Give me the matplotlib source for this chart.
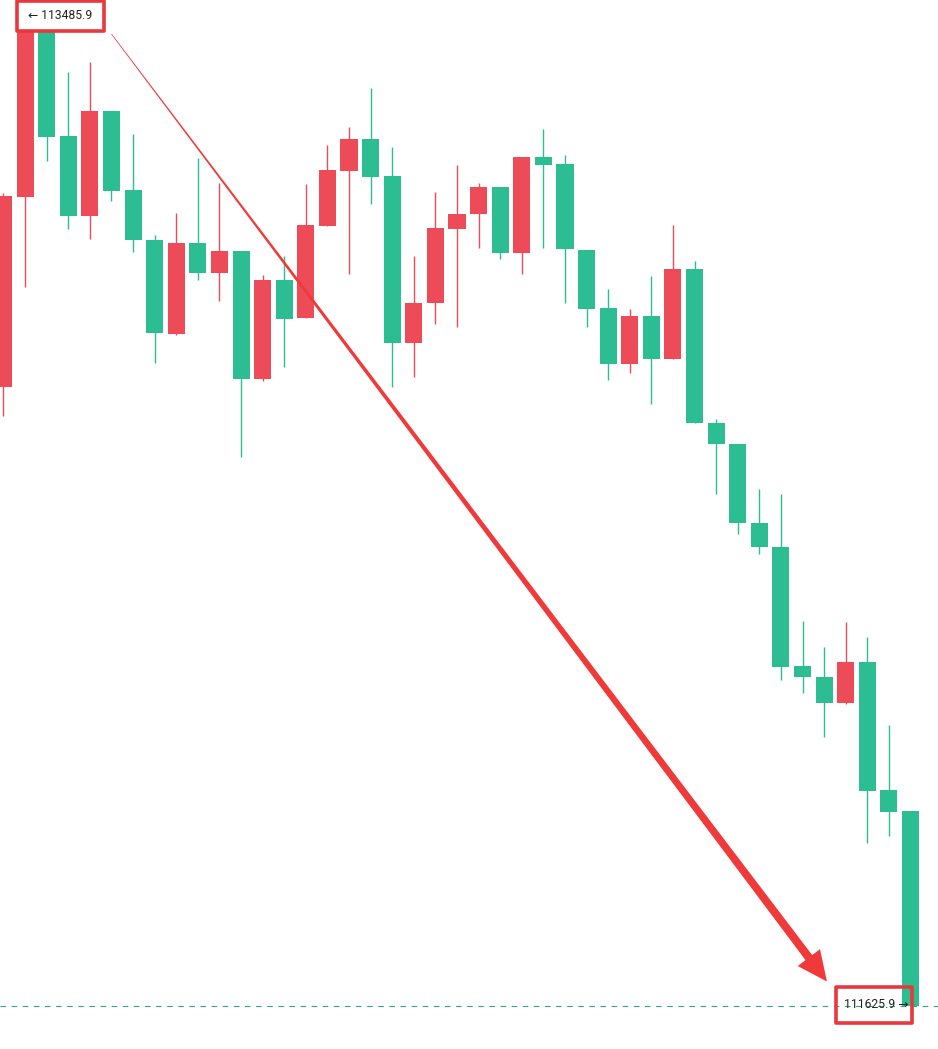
import numpy as np
import matplotlib
matplotlib.use("Agg")
import matplotlib.pyplot as plt
from matplotlib.patches import Polygon, FancyBboxPatch

# candle data, oldest first
opens = [112788.5, 113145.7, 113463.3, 113260.3, 113110.0, 113307.3, 113158.8, 113064.9,
         112888.2, 113059.2, 113002.8, 113044.2, 112803.6, 112989.7, 112918.2, 113091.2,
         113194.6, 113254.7, 113185.2, 112871.2, 112946.4, 113085.5, 113113.7, 113164.5,
         113040.4, 113220.9, 113207.7, 113046.0, 112937.0, 112831.8, 112922.0, 112841.2,
         113010.3, 112720.9, 112681.4, 112532.9, 112487.8, 112264.1, 112243.4, 112194.5,
         112271.6, 112031.0, 111991.5]
closes = [113147.6, 113463.3, 113258.5, 113110.0, 113307.3, 113157.0, 113064.9, 112890.0,
          113059.2, 113002.8, 113044.2, 112803.6, 112989.7, 112916.4, 113093.0, 113196.4,
          113254.7, 113183.3, 112871.2, 112946.4, 113087.4, 113113.7, 113164.5, 113040.4,
          113220.9, 113205.8, 113047.9, 112935.2, 112831.8, 112922.0, 112841.2, 113010.3,
          112720.9, 112681.4, 112532.9, 112487.8, 112262.2, 112243.4, 112194.5, 112271.6,
          112029.1, 111989.7, 111625.9]
highs = [113153.2, 113485.9, 113467.1, 113380.6, 113399.4, 113307.3, 113264.1, 113074.2,
         113115.6, 113219.0, 113172.0, 113044.2, 112999.1, 113034.8, 113170.1, 113243.4,
         113277.3, 113350.6, 113239.7, 113034.8, 113155.1, 113205.8, 113172.0, 113164.5,
         113220.9, 113273.5, 113224.6, 113046.0, 112972.7, 112935.2, 112997.2, 113093.0,
         113025.4, 112728.4, 112681.4, 112596.8, 112587.4, 112348.7, 112299.8, 112346.8,
         112318.6, 112153.2, 111991.5]
lows = [112734.0, 112976.5, 113213.3, 113085.5, 113066.7, 113138.2, 113042.3, 112833.6,
        112886.3, 112989.7, 112950.2, 112657.0, 112799.8, 112826.1, 112918.2, 113091.2,
        113000.9, 113132.5, 112788.5, 112807.3, 112907.0, 112901.3, 113049.8, 113029.1,
        113000.9, 113049.8, 112946.4, 112901.3, 112801.7, 112814.9, 112756.6, 112841.2,
        112720.9, 112587.4, 112512.2, 112474.6, 112237.8, 112213.3, 112130.6, 112192.7,
        111931.4, 111944.6, 111625.9]

high_label = "113485.9"
last_label = "111625.9"

UP = "#ee4b58"
DOWN = "#2dbd92"
RED = "#f03a3a"

W, H = 938, 1049
fig = plt.figure(figsize=(W / 100, H / 100), dpi=100)
ax = fig.add_axes([0, 0, 1, 1])
ax.set_axis_off()

x = np.arange(len(opens))
o = np.array(opens); c = np.array(closes)
hi = np.array(highs); lo = np.array(lows)
cols = [UP if cc > oo else DOWN for oo, cc in zip(o, c)]

xmin, xmax = -0.162, len(x) - 1 + 1.273
ymin, ymax = 111544.2, 113516.0
ax.set_xlim(xmin, xmax)
ax.set_ylim(ymin, ymax)
dx = (xmax - xmin) / W   # data units per pixel
dy = (ymax - ymin) / H

# wicks + bodies
ax.vlines(x, lo, hi, colors=cols, linewidth=1.0, zorder=2)
body = np.where(np.abs(c - o) < 2 * dy, 2 * dy * np.sign(c - o + 1e-9), c - o)
ax.bar(x, body, bottom=o, width=0.79, color=cols, linewidth=0, zorder=3)

# dashed last-price line
ax.axhline(closes[-1], color="#2aa88f", linestyle=(0, (5, 5)), linewidth=0.8, zorder=1)

# top label box
ih = int(np.argmax(hi))
ax.add_patch(FancyBboxPatch((ih - 8 * dx, hi[ih] - 15 * dy), 87 * dx, 30 * dy,
                            boxstyle="square,pad=0", facecolor="white",
                            edgecolor="#e8383d", linewidth=2.6, zorder=5,
                            joinstyle="round"))
ax.text(ih + 3 * dx, hi[ih] + 1 * dy, "\u2190 " + high_label, fontsize=8.7,
        family=["Roboto", "DejaVu Sans"], color="#222222", va="center", ha="left", zorder=6)

# bottom label box (no fill)
il = len(x) - 1
ax.add_patch(FancyBboxPatch((il - 74.5 * dx, c[il] - 17 * dy), 76 * dx, 36 * dy,
                            boxstyle="square,pad=0", facecolor="none",
                            edgecolor="#e8383d", linewidth=2.6, zorder=5,
                            joinstyle="round"))
ax.text(il - 2.5 * dx, c[il] + 1 * dy, last_label + " \u2192", fontsize=8.7,
        family=["Roboto", "DejaVu Sans"], color="#222222", va="center", ha="right", zorder=6)

# tapered red arrow from top label to bottom label
start = ax.transData.transform((ih + 4.0, hi[ih] - 18 * dy))
tip = ax.transData.transform((il - 3.87, c[il] + 24 * dy))
v = tip - start
L = np.hypot(*v)
u = v / L
n = np.array([-u[1], u[0]])
head_len, head_half = 30, 14
base = tip - u * head_len
w0, w1 = 0.35, 4.2
pts = [start + n * w0, base + n * w1, base + n * head_half, tip,
       base - n * head_half, base - n * w1, start - n * w0]
pts = ax.transData.inverted().transform(np.array(pts))
ax.add_patch(Polygon(pts, closed=True, facecolor=RED, edgecolor="none", zorder=4))

fig.savefig("out.png", dpi=100, facecolor="white")
